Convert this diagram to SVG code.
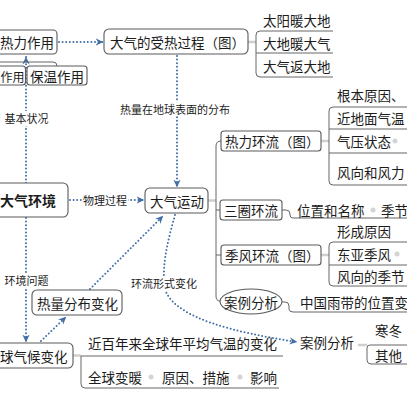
<svg xmlns="http://www.w3.org/2000/svg" width="407" height="405" viewBox="0 0 407 405">
<defs>
<marker id="ah" markerWidth="9" markerHeight="9" refX="7.5" refY="4" orient="auto" markerUnits="userSpaceOnUse">
<path d="M0,0.3 L7.8,4 L0,7.7 L2.6,4 z" fill="#3f6fa6"/>
</marker>
</defs>
<style>
text{font-family:"Noto Sans CJK SC","Noto Sans",sans-serif;fill:#1c1c1c;dominant-baseline:central}
.t{font-size:13.5px}
.s{font-size:12px}
.c{font-size:14px;font-weight:bold}
.l{font-size:11px}
.box{fill:#fff;stroke:#5a5a5a;stroke-width:1.1}
.arr{fill:none;stroke:#3f6fa6;stroke-width:2;stroke-dasharray:0 3.6;stroke-linecap:round}
.tree{fill:none;stroke:#666;stroke-width:1}
.con{stroke:#cfcfcf;stroke-width:2.5}
.dot{fill:#d4d4d4}
.lb{fill:#fff}
</style>
<rect width="407" height="405" fill="#fff"/>

<g id="connectors">
<path class="arr" d="M26,183 V57" marker-end="url(#ah)"/>
<path class="arr" d="M59,42 H103" marker-end="url(#ah)"/>
<path class="arr" d="M177,56 V187" marker-end="url(#ah)"/>
<path class="arr" d="M70,200 H144" marker-end="url(#ah)"/>
<path class="arr" d="M26,218 V342" marker-end="url(#ah)"/>
<path class="arr" d="M41,341 L66,317" marker-end="url(#ah)"/>
<path class="arr" d="M90,289 L163,216" marker-end="url(#ah)"/>
<path class="arr" d="M175,215 C168,240 160,270 166,292 C178,318 232,332 297,342" marker-end="url(#ah)"/>
<rect class="lb" x="4" y="111" width="45" height="15"/>
<text class="l" x="26.5" y="118" text-anchor="middle">基本状况</text>
<rect class="lb" x="119" y="101" width="112" height="15"/>
<text class="l" x="175" y="108.5" text-anchor="middle">热量在地球表面的分布</text>
<rect class="lb" x="82" y="193" width="46" height="15"/>
<text class="l" x="105" y="200" text-anchor="middle">物理过程</text>
<rect class="lb" x="4" y="273" width="45" height="15"/>
<text class="l" x="26.5" y="280" text-anchor="middle">环境问题</text>
<rect class="lb" x="131" y="276" width="66" height="15"/>
<text class="l" x="164" y="283" text-anchor="middle">环流形式变化</text>

<path class="tree" d="M0,62 H53 Q57,62 57,66"/>
<line class="con" x1="248" y1="42" x2="256" y2="42"/>
<path class="tree" d="M333,31 H260 Q256,31 256,35 V73 Q256,77 260,77 H333 M256,53 H333"/>
<line class="con" x1="208" y1="200.5" x2="216" y2="200.5"/>
<path class="tree" d="M221,141 Q216,141 216,146 V296 Q216,301 220,301 M216,210 H220 M216,255 H221"/>
<line class="con" x1="321" y1="141" x2="329" y2="141"/>
<path class="tree" d="M407,107 H333 Q329,107 329,111 V181 Q329,185 333,185 H407 M329,129 H407 M329,153 H407"/>
<path class="tree" d="M282,210 H286 Q290,210 290,214 V215 Q290,218 293,218 H407"/>
<line class="con" x1="321" y1="255" x2="329" y2="255"/>
<path class="tree" d="M407,242 H333 Q329,242 329,246 V282 Q329,286 333,286 H407 M329,265 H407"/>
<path class="tree" d="M282,302 H285 Q289,302 289,306 V309 Q289,312 293,312 H407"/>
<line class="con" x1="73" y1="355.5" x2="81" y2="355.5"/>
<path class="tree" d="M283,356 H81 V384 Q81,388 85,388 H279"/>
<line class="con" x1="358" y1="345" x2="367" y2="345"/>
<path class="tree" d="M407,345 H370 Q367,345 367,348 V360 Q367,364 371,364 H407"/>
<circle class="dot" cx="395" cy="141" r="2.5"/>
<circle class="dot" cx="373" cy="210" r="2.5"/>
<circle class="dot" cx="397" cy="254" r="2.5"/>
<circle class="dot" cx="151" cy="377" r="2.5"/>
<circle class="dot" cx="240" cy="377" r="2.5"/>
</g>

<g id="n-reli"><rect class="box" x="-6" y="30" width="63" height="24" rx="4"/><text class="t" x="0" y="42">热力作用</text></g>
<g id="n-zuoyong"><rect class="box" x="-6" y="66" width="31.5" height="19" rx="3"/><text class="s" x="0.5" y="76">作用</text></g>
<g id="n-baowen"><rect class="box" x="27" y="66" width="60" height="19" rx="3"/><text class="t" x="30" y="76">保温作用</text></g>
<g id="n-shoure"><rect class="box" x="104" y="29" width="144" height="25" rx="5"/><text class="t" x="110" y="42">大气的受热过程（图）</text></g>
<g id="n-shoure-sub">
<text class="t" x="263" y="20">太阳暖大地</text>
<text class="t" x="263" y="42.5">大地暖大气</text>
<text class="t" x="263" y="65.5">大气返大地</text>
</g>
<g id="n-huanjing"><rect class="box" x="-6" y="183" width="74" height="34" rx="5"/><text class="c" x="0" y="200">大气环境</text></g>
<g id="n-yundong"><rect class="box" x="145" y="188" width="63" height="25" rx="5"/><text class="t" x="150" y="200.5">大气运动</text></g>
<g id="n-rlhl"><rect class="box" x="221" y="131" width="100" height="20" rx="3"/><text class="t" x="225" y="141">热力环流（图）</text></g>
<g id="n-rlhl-sub">
<text class="t" x="337" y="95">根本原因、</text>
<text class="t" x="337" y="118">近地面气温</text>
<text class="t" x="337" y="141">气压状态</text>
<text class="t" x="337" y="172">风向和风力</text>
</g>
<g id="n-sqhl"><rect class="box" x="220" y="200" width="62" height="20" rx="3"/><text class="t" x="224" y="210">三圈环流</text></g>
<g id="n-sqhl-sub">
<text class="t" x="297" y="209.5">位置和名称</text>
<text class="t" x="381" y="209.5">季节</text>
</g>
<g id="n-jfhl"><rect class="box" x="221" y="245" width="100" height="20" rx="3"/><text class="t" x="225" y="255">季风环流（图）</text></g>
<g id="n-jfhl-sub">
<text class="t" x="337" y="231">形成原因</text>
<text class="t" x="337" y="254">东亚季风</text>
<text class="t" x="337" y="276">风向的季节</text>
</g>
<g id="n-anli1"><ellipse class="box" cx="251" cy="301.5" rx="31" ry="12.5"/><text class="t" x="251" y="301.5" text-anchor="middle">案例分析</text></g>
<g id="n-anli1-sub"><text class="t" x="300" y="302">中国雨带的位置变</text></g>
<g id="n-rlfb"><rect class="box" x="32" y="290" width="90" height="25" rx="5"/><text class="t" x="37" y="302.5">热量分布变化</text></g>
<g id="n-qqqh"><rect class="box" x="-6" y="343" width="79" height="25" rx="5"/><text class="t" x="0" y="355.5">球气候变化</text></g>
<g id="n-qqqh-sub">
<text class="t" x="88" y="343">近百年来全球年平均气温的变化</text>
<text class="t" x="88" y="377">全球变暖</text>
<text class="t" x="162" y="377">原因、措施</text>
<text class="t" x="250" y="377">影响</text>
</g>
<g id="n-anli2">
<text class="t" x="300" y="342">案例分析</text>
<text class="t" x="375" y="330">寒冬</text>
<text class="t" x="375" y="355">其他</text>
</g>
</svg>
